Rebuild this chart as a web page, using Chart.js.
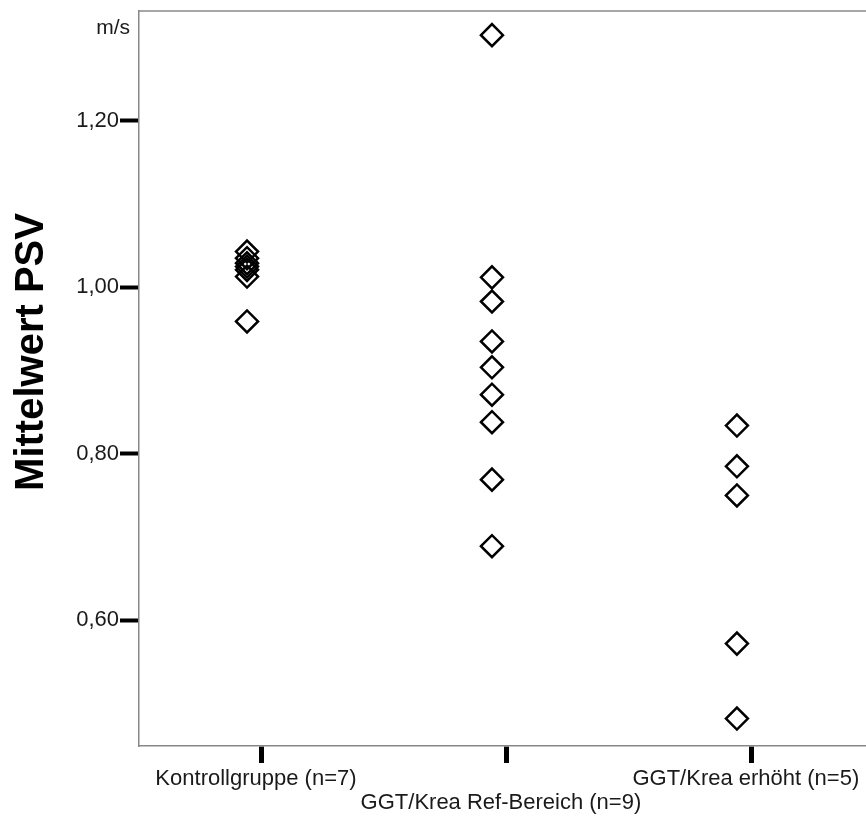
<!DOCTYPE html>
<html>
<head>
<meta charset="utf-8">
<title>Mittelwert PSV</title>
<script src="https://cdn.jsdelivr.net/npm/chart.js@4.4.1/dist/chart.umd.min.js"></script>
<style>
  html, body { margin: 0; padding: 0; background: #fff; }
  canvas { display: block; }
</style>
</head>
<body>
<canvas id="psv" width="866" height="823"></canvas>
<script>
// groups on the x axis (second label sits on its own line)
const groupLabels = [
  ['Kontrollgruppe (n=7)'],
  ['', 'GGT/Krea Ref-Bereich (n=9)'],
  ['GGT/Krea erhöht (n=5)']
];
const groupPositions = [1, 2, 3];

// mean PSV per animal, m/s
const kontrollValues = [1.043, 1.035, 1.029, 1.025, 1.021, 1.013, 0.959];
const refBereichValues = [1.303, 1.012, 0.983, 0.935, 0.904, 0.871, 0.838, 0.769, 0.689];
const erhoehtValues = [0.834, 0.785, 0.750, 0.572, 0.482];

const yTickValues = [0.6, 0.8, 1.0, 1.2];
const xTickShift = 0.061; // SPSS draws category ticks slightly right of the points

const FONT = '"Liberation Sans", Arial, Helvetica, sans-serif';
const TEXT = '#1a1a1a';

const seriesValues = [kontrollValues, refBereichValues, erhoehtValues];
const datasets = seriesValues.map((vals, i) => ({
  label: groupLabels[i].join(' ').trim(),
  data: vals.map(v => ({ x: groupPositions[i], y: v })),
  pointStyle: 'rectRot',
  pointRadius: 11,
  pointHoverRadius: 11,
  borderWidth: 2.5,
  pointBorderWidth: 2.5,
  borderColor: '#000',
  pointBorderColor: '#000',
  backgroundColor: 'rgba(0,0,0,0)',
  pointBackgroundColor: 'rgba(0,0,0,0)',
  showLine: false
}));

// keep the plot box fixed: no extra room reserved for overhanging labels
const noPadding = s => {
  s.paddingLeft = 0;
  s.paddingRight = 0;
  s.paddingTop = 0;
  s.paddingBottom = 0;
};

// frame line on top, unit label and the rotated axis title
const extras = {
  id: 'extras',
  afterDraw(chart) {
    const { ctx, chartArea } = chart;
    ctx.save();
    ctx.strokeStyle = '#888';
    ctx.lineWidth = 1.5;
    ctx.beginPath();
    ctx.moveTo(chartArea.left, chartArea.top);
    ctx.lineTo(chartArea.right, chartArea.top);
    ctx.stroke();

    ctx.fillStyle = TEXT;
    ctx.font = '21px ' + FONT;
    ctx.textAlign = 'right';
    ctx.textBaseline = 'middle';
    ctx.fillText('m/s', 130, 28);

    ctx.translate(32, 352);
    ctx.rotate(-Math.PI / 2);
    ctx.font = 'bold 40px ' + FONT;
    ctx.textAlign = 'center';
    ctx.fillStyle = '#000';
    ctx.fillText('Mittelwert PSV', 0, 0);
    ctx.restore();
  }
};

new Chart(document.getElementById('psv'), {
  type: 'scatter',
  data: { datasets },
  options: {
    responsive: false,
    animation: false,
    events: [],
    layout: { autoPadding: false, padding: { top: 11, right: 0, left: 0, bottom: 0 } },
    plugins: {
      legend: { display: false },
      tooltip: { enabled: false }
    },
    scales: {
      x: {
        type: 'linear',
        min: 0.559,
        max: 3.527,
        afterBuildTicks: s => { s.ticks = groupPositions.map(p => ({ value: p + xTickShift })); },
        afterFit: s => { s.height = 77; noPadding(s); },
        border: { display: true, color: '#888', width: 1.5 },
        grid: {
          drawOnChartArea: false,
          drawTicks: true,
          tickLength: 17,
          tickWidth: 5,
          tickColor: '#000'
        },
        ticks: {
          autoSkip: false,
          maxRotation: 0,
          minRotation: 0,
          padding: 4,
          labelOffset: -6,
          color: TEXT,
          font: { family: FONT, size: 22, lineHeight: 1.1 },
          callback: (v, i) => groupLabels[i]
        }
      },
      y: {
        min: 0.449,
        max: 1.332,
        afterBuildTicks: s => { s.ticks = yTickValues.map(v => ({ value: v })); },
        afterFit: s => { s.width = 139; noPadding(s); },
        border: { display: true, color: '#888', width: 1.5 },
        grid: {
          drawOnChartArea: false,
          drawTicks: true,
          tickLength: 19,
          tickWidth: 4,
          tickColor: '#000'
        },
        ticks: {
          padding: 1,
          color: TEXT,
          font: { family: FONT, size: 22 },
          callback: v => v.toFixed(2).replace('.', ',')
        }
      }
    }
  },
  plugins: [extras]
});
</script>
</body>
</html>
